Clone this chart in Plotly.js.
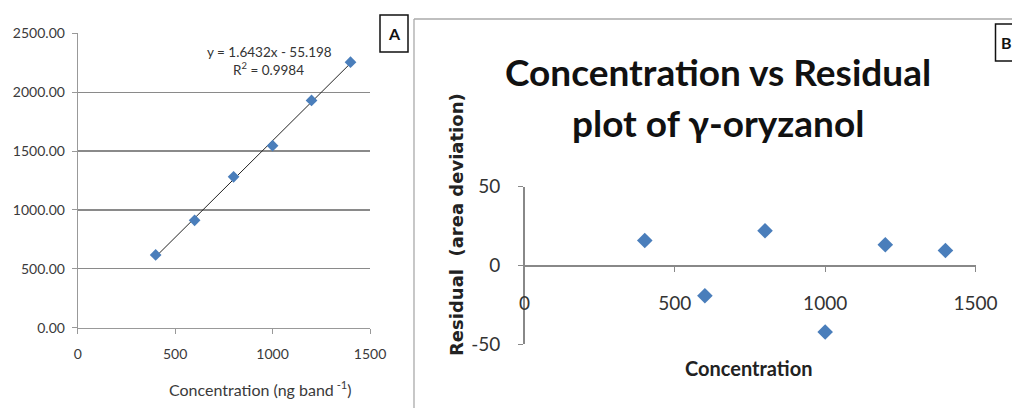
<!DOCTYPE html>
<html><head><meta charset="utf-8">
<script src="https://cdn.plot.ly/plotly-3.0.1.min.js"></script>
<style>body{margin:0;background:#fff}#c{width:1012px;height:408px}</style>
</head><body><div id="c"></div>
<script>
// Panel A: calibration data
const concA = [400, 600, 800, 1000, 1200, 1400];
const areaA = [618, 912, 1281, 1546, 1930, 2255];
const slope = 1.6432, intercept = -55.198, r2 = '0.9984';
const trendX = [400, 1400];
// Panel B: residuals
const concB = [400, 600, 800, 1000, 1200, 1400];
const residB = [15.7, -19.4, 21.9, -42.4, 13, 9.4];
const yTicksA = [0, 500, 1000, 1500, 2000, 2500];
const xTicks = [0, 500, 1000, 1500];
const yTicksB = [-50, 0, 50];

const W = 1012, H = 408;
const px = v => v / W, py = v => (H - v) / H;
const FONT = 'Lato, "Open Sans", sans-serif';
const blue = '#4a7ebb';

const traces = [
  {x: trendX, y: trendX.map(v => slope * v + intercept), mode: 'lines', type: 'scatter',
   line: {color: '#222', width: 1}, xaxis: 'x', yaxis: 'y', hoverinfo: 'skip'},
  {x: concA, y: areaA, mode: 'markers', type: 'scatter',
   marker: {symbol: 'diamond', size: 9, color: blue}, xaxis: 'x', yaxis: 'y'},
  {x: concB, y: residB, mode: 'markers', type: 'scatter',
   marker: {symbol: 'diamond', size: 12, color: blue}, xaxis: 'x2', yaxis: 'y2'}
];

const layout = {
  width: W, height: H, margin: {l: 0, r: 0, t: 0, b: 0},
  paper_bgcolor: '#fff', plot_bgcolor: 'rgba(0,0,0,0)', showlegend: false,
  font: {family: FONT, color: '#333'},
  xaxis: {domain: [px(77.7), px(370)], range: [0, 1500], tickvals: xTicks,
    showgrid: false, zeroline: false, showline: true, linecolor: '#999', linewidth: 1,
    ticks: 'outside', ticklen: 5, tickcolor: '#999', anchor: 'y', ticklabelstandoff: 8,
    tickfont: {size: 14, color: '#3a3a3a'}},
  yaxis: {domain: [py(327.7), py(33.3)], range: [0, 2500], tickvals: yTicksA, tickformat: '.2f',
    showgrid: true, gridcolor: '#8a8a8a', gridwidth: 1.3, zeroline: false,
    showline: true, linecolor: '#999', linewidth: 1, ticks: 'outside', ticklen: 5, tickcolor: '#999',
    anchor: 'x', ticklabelstandoff: 4, tickfont: {size: 14, color: '#3a3a3a'}},
  xaxis2: {domain: [px(524.5), px(975.5)], range: [0, 1500], tickvals: xTicks,
    anchor: 'free', position: py(265.25), showgrid: false, zeroline: false,
    showline: true, linecolor: '#888', linewidth: 1.3, ticks: 'outside', ticklen: 5, tickcolor: '#888',
    ticklabelstandoff: 16, tickfont: {size: 19, color: '#333'}},
  yaxis2: {domain: [py(344), py(186.5)], range: [-50, 50], tickvals: yTicksB,
    ticktext: yTicksB.map(String),
    anchor: 'x2', showgrid: false, zeroline: false, showline: true, linecolor: '#888', linewidth: 1.3,
    ticks: 'outside', ticklen: 5, tickcolor: '#888', ticklabelstandoff: 14,
    tickfont: {size: 19, color: '#333'}},
  shapes: [
    {type: 'rect', xref: 'paper', yref: 'paper', x0: px(380), x1: px(408), y0: py(52), y1: py(15),
     line: {color: '#111', width: 1.5}},
    {type: 'line', xref: 'paper', yref: 'paper', x0: px(414), x1: px(414), y0: 0, y1: py(19),
     line: {color: '#aaa', width: 1.3}},
    {type: 'line', xref: 'paper', yref: 'paper', x0: px(414), x1: 1, y0: py(19), y1: py(19),
     line: {color: '#aaa', width: 1.3}},
    {type: 'rect', xref: 'paper', yref: 'paper', x0: px(995.5), x1: px(1030), y0: py(61), y1: py(24),
     line: {color: '#111', width: 1.5}}
  ],
  annotations: [
    {xref: 'paper', yref: 'paper', x: px(394), y: py(33.5), text: '<b>A</b>', showarrow: false,
     font: {size: 16, color: '#111'}, xanchor: 'center', yanchor: 'middle'},
    {xref: 'paper', yref: 'paper', x: px(999), y: py(42.5), text: '<b>B</b>', showarrow: false,
     font: {size: 16, color: '#111'}, xanchor: 'left', yanchor: 'middle'},
    {xref: 'paper', yref: 'paper', x: px(269), y: py(52), text: 'y = ' + slope + 'x - ' + Math.abs(intercept),
     showarrow: false, font: {size: 13.5, color: '#333'}, xanchor: 'center', yanchor: 'middle'},
    {xref: 'paper', yref: 'paper', x: px(268), y: py(69), text: 'R<sup>2</sup> = ' + r2,
     showarrow: false, font: {size: 13.5, color: '#333'}, xanchor: 'center', yanchor: 'middle'},
    {xref: 'paper', yref: 'paper', x: px(260), y: py(388), text: 'Concentration (ng band<sup> -1</sup>)',
     showarrow: false, font: {size: 16, color: '#3a3a3a'}, xanchor: 'center', yanchor: 'middle'},
    {xref: 'paper', yref: 'paper', x: px(718), y: py(71), text: '<b>Concentration vs Residual</b>',
     showarrow: false, font: {size: 37, color: '#111'}, xanchor: 'center', yanchor: 'middle'},
    {xref: 'paper', yref: 'paper', x: px(718), y: py(122), text: '<b>plot of γ-oryzanol</b>',
     showarrow: false, font: {size: 37, color: '#111'}, xanchor: 'center', yanchor: 'middle'},
    {xref: 'paper', yref: 'paper', x: px(456), y: py(225), text: '<b>Residual  (area deviation)</b>',
     showarrow: false, textangle: -90, font: {family: '"DejaVu Sans", sans-serif', size: 18, color: '#222'},
     xanchor: 'center', yanchor: 'middle'},
    {xref: 'paper', yref: 'paper', x: px(749), y: py(368), text: '<b>Concentration</b>',
     showarrow: false, font: {size: 20, color: '#222'}, xanchor: 'center', yanchor: 'middle'}
  ]
};
Plotly.newPlot('c', traces, layout, {staticPlot: true});
</script></body></html>
